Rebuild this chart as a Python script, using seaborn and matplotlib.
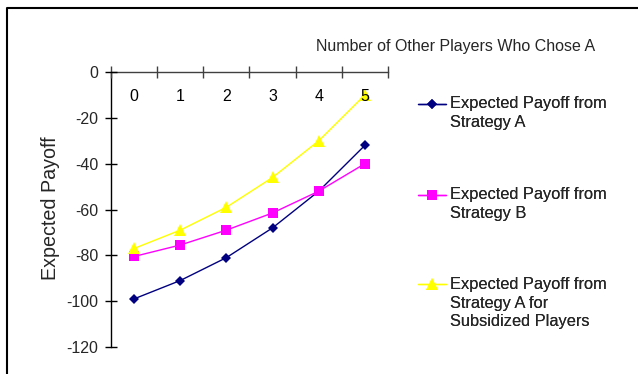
import matplotlib
matplotlib.use("Agg")
import matplotlib.pyplot as plt
import seaborn as sns
import pandas as pd
from matplotlib.lines import Line2D
from matplotlib.ticker import FixedLocator, NullFormatter
from matplotlib.legend_handler import HandlerLine2D
from matplotlib.transforms import Affine2D

# ---- data ----
players = [0, 1, 2, 3, 4, 5]
payoff_a = [-99, -91, -81, -68, -52, -32]
payoff_b = [-80.5, -75.5, -69, -61.5, -52, -40]
payoff_a_sub = [-77, -69, -59, -46, -30, -10]
series_names = ["Expected Payoff from\nStrategy A",
                "Expected Payoff from\nStrategy B",
                "Expected Payoff from\nStrategy A for\nSubsidized Players"]
y_ticks = [0, -20, -40, -60, -80, -100, -120]

df = pd.DataFrame({
    "players": players * 3,
    "payoff": payoff_a + payoff_b + payoff_a_sub,
    "series": [series_names[0]] * 6 + [series_names[1]] * 6 + [series_names[2]] * 6,
})

sns.set_style("white")
plt.rcParams["font.family"] = ["Liberation Sans", "DejaVu Sans"]

fig = plt.figure(figsize=(6.38, 3.74), dpi=100)
ax = fig.add_axes([111 / 638, 1 - 347 / 374, 277 / 638, 275 / 374])

palette = {series_names[0]: "#000080", series_names[1]: "#FF00FF", series_names[2]: "#FFFF00"}
markers = {series_names[0]: "D", series_names[1]: "s", series_names[2]: "^"}
sizes_m = {series_names[0]: 5, series_names[1]: 7.5, series_names[2]: 8}

for name in series_names:
    sub = df[df["series"] == name]
    sns.lineplot(data=sub, x="players", y="payoff", ax=ax, color=palette[name],
                 marker=markers[name], markersize=sizes_m[name], markeredgewidth=0,
                 linewidth=1.0, label=name, legend=False, zorder=2)

ax.set_xlim(-0.5, 5.5)
ax.set_ylim(-120, 0)
ax.set_axisbelow(False)

for s in ["top", "right"]:
    ax.spines[s].set_visible(False)
ax.spines["bottom"].set_position(("data", 0))
ax.spines["bottom"].set_color("#404040")
ax.spines["left"].set_color("black")
for s in ["bottom", "left"]:
    ax.spines[s].set_linewidth(1.0)

ax.set_xticks(players)
ax.set_xticklabels([str(p) for p in players])
ax.xaxis.set_minor_locator(FixedLocator([p - 0.5 for p in players] + [5.5]))
ax.xaxis.set_minor_formatter(NullFormatter())
ax.tick_params(axis="x", which="major", length=0, pad=12, labelsize=11.5, colors="black")
ax.tick_params(axis="x", which="minor", length=8, direction="inout", width=1.0, color="#404040", bottom=True)
ax.set_yticks(y_ticks)
ax.set_yticklabels([str(v) for v in y_ticks])
ax.tick_params(axis="y", length=8, direction="inout", width=1.0, labelsize=11.5, pad=5, left=True, color="black")
ax.set_xlabel("")
ax.set_ylabel("")

fig.text(456 / 638, 1 - 46 / 374, "Number of Other Players Who Chose A",
         ha="center", va="center", fontsize=11.5)
fig.text(51 / 638, 1 - 208 / 374, "Expected Payoff", rotation=90,
         ha="center", va="center", fontsize=14.2)


class TopAlignedHandler(HandlerLine2D):
    """Place the legend sample next to the first line of a multi-line label."""
    def __init__(self, shift_pt, **kw):
        super().__init__(**kw)
        self.shift_pt = shift_pt

    def create_artists(self, legend, orig_handle, xdescent, ydescent, width,
                       height, fontsize, trans):
        trans = Affine2D().translate(0, self.shift_pt) + trans
        return super().create_artists(legend, orig_handle, xdescent, ydescent,
                                      width, height, fontsize, trans)


# legend, one entry per block
handles, labels = ax.get_legend_handles_labels()
tops = [96, 187, 277]
line_px = 19
for h, l, t in zip(handles, labels, tops):
    nlines = l.count("\n") + 1
    shift = (nlines - 1) / 2 * line_px * 72 / 100
    leg = fig.legend([h], [l], loc="upper left", bbox_to_anchor=(418 / 638, 1 - t / 374),
                     frameon=False, fontsize=11.8, handlelength=1.7, handletextpad=0.25,
                     borderaxespad=0, borderpad=0,
                     handler_map={h: TopAlignedHandler(shift)})
    for txt in leg.get_texts():
        txt.set_linespacing(1.3)
    fig.add_artist(leg)

# figure border (top and left visible)
fig.add_artist(Line2D([7 / 638, 7 / 638, 1.2], [-0.2, 1 - 8 / 374, 1 - 8 / 374],
                      transform=fig.transFigure, color="black", linewidth=1.5))

fig.savefig("out.png", dpi=100)
